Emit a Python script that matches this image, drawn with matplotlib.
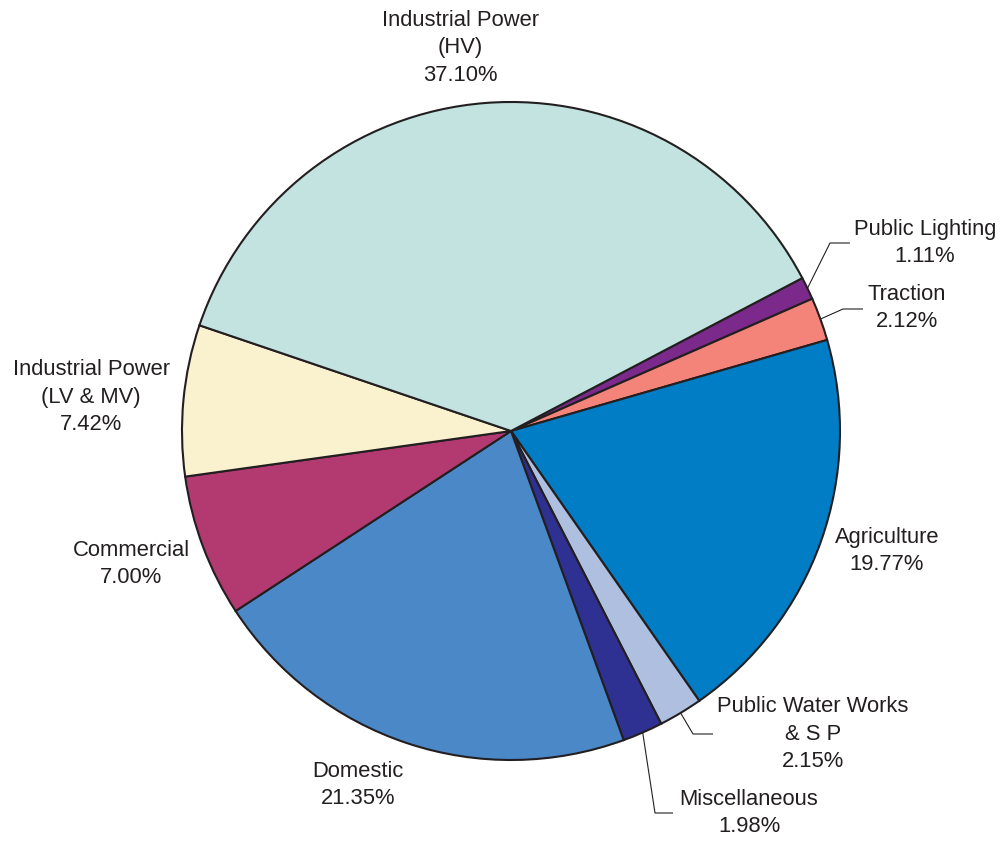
import numpy as np
import matplotlib
matplotlib.use("Agg")
import matplotlib.pyplot as plt

labels = ["Public Lighting", "Traction", "Agriculture", "Public Water Works\n& S P",
          "Miscellaneous", "Domestic", "Commercial", "Industrial Power\n(LV & MV)",
          "Industrial Power\n(HV)"]
values = [1.11, 2.12, 19.77, 2.15, 1.98, 21.35, 7.00, 7.42, 37.10]
colors = ["#7B2A8C", "#F4837A", "#007DC5", "#AFBFE0", "#2E3192", "#4A88C8",
          "#B23A70", "#FAF1CF", "#C2E3E0"]

# layout (pixel positions in the 1001x842 canvas)
CX, CY, R = 511, 431, 329
W, H = 1001, 842
label_pos = [(925, 243), (907, 308), (887, 551), (813, 734), (749, 813),
             (358, 785), (131, 564), (91, 397), (460, 48)]
# leader lines: (elbow, end) in pixels
leaders = {0: ((830, 243), (850, 243)),
           1: ((843, 309), (863, 309)),
           3: ((693, 734), (713, 734)),
           4: ((655, 813), (673, 813))}

def px(p):
    return ((p[0] - CX) / R, (CY - p[1]) / R)

fig = plt.figure(figsize=(W / 100, H / 100), dpi=100)
ax = fig.add_axes([0, 0, 1, 1])
ax.axis("off")

start = 27.7
wedges, _ = ax.pie(values, colors=colors, startangle=start, counterclock=False,
                   radius=1, center=(0, 0),
                   wedgeprops=dict(edgecolor="#231F20", linewidth=1.5))
ax.set_xlim(-CX / R, (W - CX) / R)
ax.set_ylim(-(H - CY) / R, CY / R)
ax.set_aspect("auto")

tc = "#231F20"
for i, (lab, v) in enumerate(zip(labels, values)):
    x, y = px(label_pos[i])
    ax.text(x, y, f"{lab}\n{v:.2f}%", ha="center", va="center",
            multialignment="center", fontsize=15.8, color=tc,
            family=["Liberation Sans", "DejaVu Sans"], linespacing=1.42)
    if i in leaders:
        w = wedges[i]
        mid = np.deg2rad((w.theta1 + w.theta2) / 2)
        sx, sy = np.cos(mid), np.sin(mid)
        e1 = px(leaders[i][0])
        e2 = px(leaders[i][1])
        ax.plot([sx, e1[0], e2[0]], [sy, e1[1], e2[1]], color=tc, lw=0.8,
                solid_capstyle="butt")

fig.savefig("out.png", dpi=100, facecolor="white")
